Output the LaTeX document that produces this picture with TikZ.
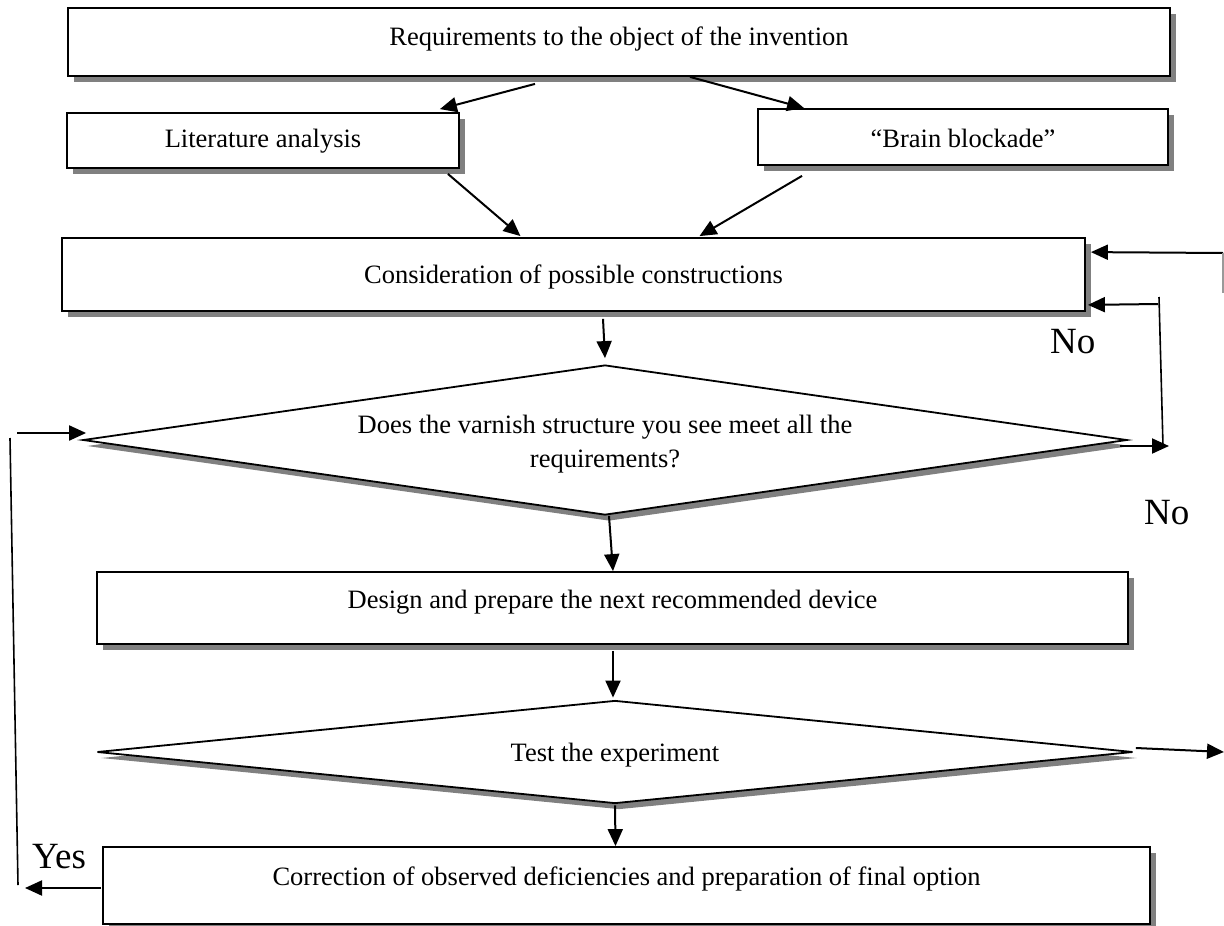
\documentclass[tikz,border=0pt]{standalone}
\usepackage{fontspec}
\setmainfont{Liberation Serif}
\usetikzlibrary{shapes.geometric,arrows.meta,shadows,calc}
\tikzset{
  boxnode/.style={draw=black, line width=1.8pt, fill=white, rectangle, inner sep=0pt,
    general shadow={fill=black!50, shadow xshift=6pt, shadow yshift=-6pt},
    font=\fontsize{26.5}{35}\selectfont},
  dianode/.style={draw=black, line width=1.8pt, fill=white, diamond, inner sep=0pt, aspect=7,
    general shadow={fill=black!50, shadow xshift=4pt, shadow yshift=-6pt},
    font=\fontsize{26.5}{35}\selectfont, align=center},
  textnode/.style={inner sep=0pt, font=\fontsize{26.5}{34}\selectfont, align=center},
  arr/.style={line width=2pt, -{Triangle[length=17pt,width=15pt]}},
  plainline/.style={line width=1.6pt},
  biglabel/.style={anchor=base west, inner sep=0pt, font=\fontsize{37}{40}\selectfont}
}
\begin{document}
\begin{tikzpicture}[x=1pt,y=-1pt]
\useasboundingbox (0,0) rectangle (1224,926);

% boxes
\node[boxnode, minimum width=1102pt, minimum height=68pt, text height=15pt, text depth=9pt] (req) at (619,42) {Requirements to the object of the invention};
\node[boxnode, minimum width=392pt, minimum height=55pt, text height=19pt, text depth=5pt] (lit) at (263,140.5) {Literature analysis};
\node[boxnode, minimum width=410pt, minimum height=56pt, text height=22pt, text depth=2pt] (brain) at (963,137) {“Brain blockade”};
\node[boxnode, minimum width=1023pt, minimum height=73pt, text height=21pt, text depth=3pt] (cons) at (573.5,274.5) {Consideration of possible constructions};
\node[dianode, minimum width=1044pt, minimum height=150pt] (d1) at (605,440) {};
\node[textnode, anchor=base] (d1text) at (605,467) {Does the varnish structure you see meet all the\\requirements?};
\node[boxnode, minimum width=1031pt, minimum height=72pt, text height=12pt, text depth=12pt] (design) at (612.5,608) {Design and prepare the next recommended device};
\node[dianode, aspect=10, minimum width=1036pt, minimum height=103pt, text height=21pt, text depth=3pt] (d2) at (615,752) {Test the experiment};
\node[boxnode, minimum width=1047pt, minimum height=77pt, text height=12pt, text depth=12pt] (corr) at (626.5,885.5) {Correction of observed deficiencies and preparation of final option};

% free-end coordinates
\coordinate (outTest) at (1224,752);
\coordinate (rTop) at (1223,253);
\coordinate (rTopLow) at (1223,293);
\coordinate (nR) at (1169,446);
\coordinate (nRbot) at (1163,446);
\coordinate (nRtop) at (1159,297);
\coordinate (nRstart) at (1158,304);
\coordinate (yTop) at (17,433);
\coordinate (yLineTop) at (10,438);
\coordinate (yLineBot) at (18,885);
\coordinate (yOut) at (25,888);

% connectors
\draw[arr] ($(req.south)+(-84,7)$) -- ($(lit.north east)+(-20,-3)$);
\draw[arr] ($(req.south)+(71,0)$) -- ($(brain.north west)+(47,0)$);
\draw[arr] ($(lit.south east)+(-12,5)$) -- ($(cons.north)+(-53,-1)$);
\draw[arr] ($(brain.south)+(-161,10)$) -- ($(cons.north)+(126,-1)$);
\draw[arr] ($(cons.south)+(29.5,7)$) -- ($(d1.north)+(0,-6)$);
\draw[arr] ($(d1.south)+(4,0)$) -- ($(design.north)+(0.5,0)$);
\draw[arr] ($(design.south)+(0.5,6)$) -- ($(d2.north)+(-2,-2)$);
\draw[arr] ($(d2.south)+(0,1)$) -- ($(corr.north)+(-11,0)$);
\draw[arr] ($(d2.east)+(2,-4)$) -- (outTest);

% right loops
\draw[arr] (rTop) -- ($(cons.north east)+(5,15)$);
\draw[line width=1.2pt, black!40] (rTop) -- (rTopLow);
\draw[arr] ($(d1.east)+(-8,6)$) -- (nR);
\draw[plainline] (nRbot) -- (nRtop);
\draw[arr] (nRstart) -- ($(cons.south east)+(2,-7)$);

% left loop
\draw[arr] (yTop) -- ($(d1.west)+(4,-7)$);
\draw[plainline] (yLineTop) -- (yLineBot);
\draw[arr] ($(corr.west)+(-1,2.5)$) -- (yOut);

% labels
\node[biglabel] (no1) at (1050,353) {No};
\node[biglabel] (no2) at (1144,524) {No};
\node[biglabel] (yes) at (32,868) {Yes};
\end{tikzpicture}
\end{document}
